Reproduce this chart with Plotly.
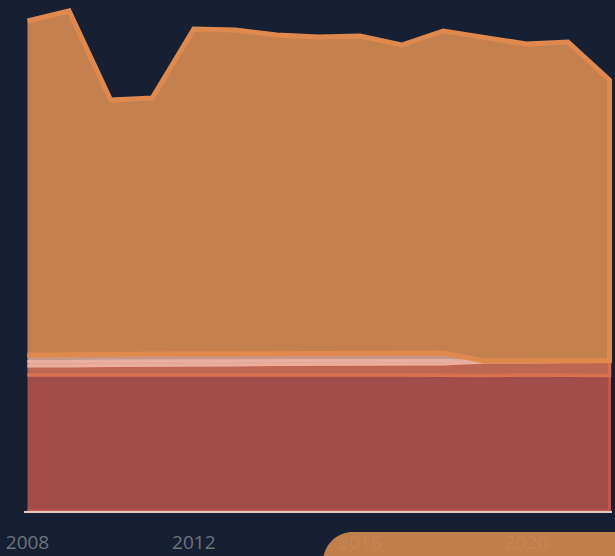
import plotly.graph_objects as go

# ---------------- data ----------------
years = [2008, 2009, 2010, 2011, 2012, 2013, 2014, 2015, 2016, 2017, 2018, 2019, 2020, 2021, 2022]

series_names = ["Layer 1", "Layer 2", "Layer 3", "Layer 4", "Layer 5"]
layer1 = [272, 272, 271, 272, 272, 272, 271, 272, 272, 272, 272, 271, 272, 272, 271]
layer2 = [18, 18, 20, 20, 20, 20, 22, 22, 22, 22, 22, 27, 26, 27, 28]
layer3 = [9, 9, 9, 9, 8, 8, 8, 7, 7, 7, 7, 1, 1, 1, 1]
layer4 = [13, 13, 13, 13, 14, 14, 13, 14, 15, 15, 15, 1, 1, 1, 1]
layer5 = [668, 688, 509, 512, 650, 648, 638, 633, 634, 616, 644, 647, 634, 637, 561]

tick_vals = [2008, 2012, 2016, 2020]
tick_text = ["2008", "2012", "2016", "2020"]

# ---------------- styles ----------------
fills = ["#a34d4b", "#bd6652", "#e4a491", "#c99586", "#c4804f"]
lines = ["#c4564b", "#d97150", "#eaae9d", "#e8b0a0", "#e0894f"]
widths = [3, 3.5, 3, 3, 5]
BG = "#172033"

W, H = 615, 556
ml, mr, mt, mb = 24, 3, 5, 45
pw, ph = W - ml - mr, H - mt - mb

fig = go.Figure()

layers = [layer1, layer2, layer3, layer4, layer5]
bottom = [0] * len(years)
for name, vals, fc, lc, lw in zip(series_names, layers, fills, lines, widths):
    top = [b + v for b, v in zip(bottom, vals)]
    fig.add_trace(go.Scatter(
        x=years + years[::-1],
        y=top + bottom[::-1],
        mode="lines",
        fill="toself",
        fillcolor=fc,
        line=dict(color=lc, width=lw, shape="linear"),
        name=name,
        hoverinfo="skip",
        showlegend=False,
    ))
    bottom = top

# x range padding so outlines are not clipped
scale = 582 / 14.0
x0 = 2008 - 3.5 / scale
x1 = 2022 + (pw - 3.5 - 582) / scale


def px(xp):
    return (xp - ml) / pw


def py(yp):
    return (H - mb - yp) / ph


k = 0.5523 * 30
path = (
    f"M {px(323)},{py(620)} L {px(323)},{py(562)} "
    f"C {px(323)},{py(562 - k)} {px(353 - k)},{py(532)} {px(353)},{py(532)} "
    f"L {px(700)},{py(532)} L {px(700)},{py(620)} Z"
)
fig.add_shape(type="path", xref="paper", yref="paper", path=path,
              fillcolor="#cf8651", opacity=0.93, line=dict(width=0), layer="above")

fig.update_layout(
    width=W, height=H,
    margin=dict(l=ml, r=mr, t=mt, b=mb, pad=0, autoexpand=False),
    paper_bgcolor=BG, plot_bgcolor=BG,
    xaxis=dict(
        range=[x0, x1], tickvals=tick_vals, ticktext=tick_text,
        showgrid=False, zeroline=False, automargin=False,
        showline=True, linecolor="#e6cbc4", linewidth=2,
        ticks="outside", ticklen=13, tickcolor="rgba(0,0,0,0)",
        tickfont=dict(family="Open Sans", size=19, color="#6f737b"),
    ),
    yaxis=dict(range=[0, 1012], showgrid=False, zeroline=False, automargin=False,
               showticklabels=False, showline=False),
)

fig.write_html("out.html", config={"displayModeBar": False},
               post_script="document.body.style.margin='0';document.body.style.background='%s';" % BG)
